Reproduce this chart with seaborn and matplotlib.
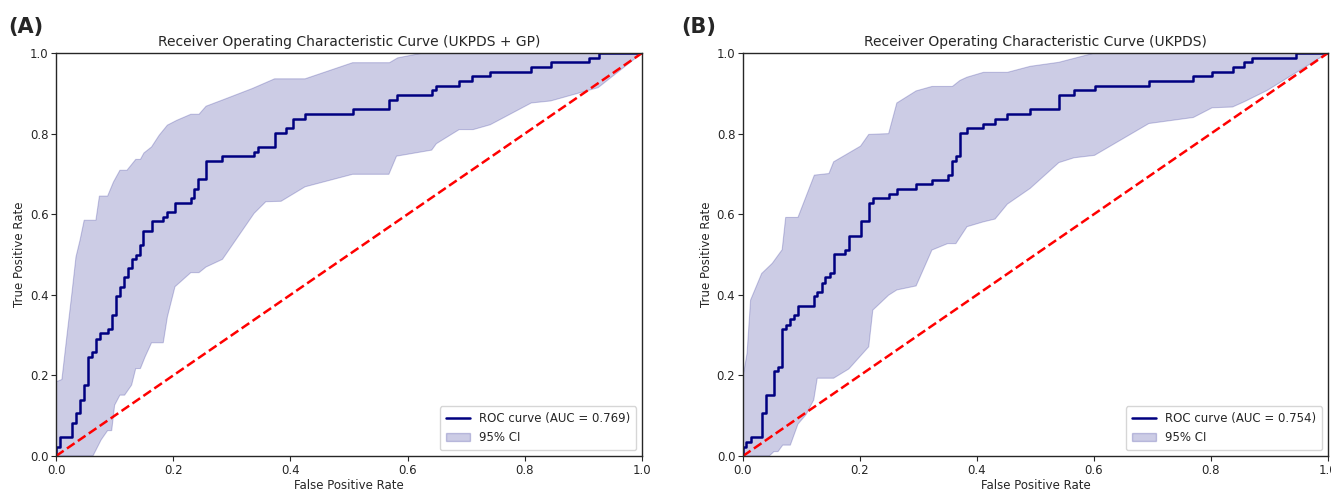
import numpy as np
import seaborn as sns
from matplotlib import pyplot as plt
from matplotlib.patches import Patch

# Panel A: UKPDS + GP
fpr_a = [0.0, 0.0, 0.007, 0.028, 0.034, 0.041, 0.047, 0.054, 0.061, 0.068, 0.075,
         0.088, 0.095, 0.102, 0.109, 0.116, 0.122, 0.129, 0.136, 0.143, 0.149,
         0.163, 0.183, 0.190, 0.203, 0.230, 0.236, 0.242, 0.256, 0.284, 0.338,
         0.345, 0.373, 0.392, 0.405, 0.425, 0.506, 0.568, 0.581, 0.641, 0.649,
         0.688, 0.709, 0.741, 0.811, 0.844, 0.910, 0.927, 1.0]
tpr_a = [0.0, 0.023, 0.048, 0.083, 0.106, 0.140, 0.176, 0.245, 0.257, 0.291, 0.304,
         0.315, 0.350, 0.397, 0.420, 0.443, 0.467, 0.490, 0.500, 0.523, 0.559,
         0.583, 0.593, 0.605, 0.628, 0.639, 0.663, 0.687, 0.732, 0.744, 0.755,
         0.767, 0.802, 0.814, 0.837, 0.848, 0.860, 0.884, 0.896, 0.907, 0.919,
         0.931, 0.942, 0.954, 0.965, 0.977, 0.988, 1.0, 1.0]
ci_up_x_a = [0.0, 0.010, 0.019, 0.027, 0.034, 0.041, 0.048, 0.068, 0.074, 0.088,
             0.098, 0.109, 0.121, 0.136, 0.144, 0.150, 0.163, 0.176, 0.190, 0.206,
             0.230, 0.244, 0.256, 0.285, 0.335, 0.373, 0.425, 0.506, 0.569, 0.583,
             0.626, 1.0]
ci_up_y_a = [0.184, 0.190, 0.304, 0.403, 0.494, 0.536, 0.585, 0.585, 0.645, 0.645,
             0.680, 0.709, 0.709, 0.736, 0.736, 0.752, 0.767, 0.796, 0.821, 0.833,
             0.848, 0.848, 0.868, 0.884, 0.912, 0.936, 0.936, 0.976, 0.976, 0.988,
             1.0, 1.0]
ci_lo_x_a = [0.0, 0.063, 0.077, 0.088, 0.095, 0.100, 0.109, 0.117, 0.129, 0.136,
             0.144, 0.152, 0.163, 0.183, 0.190, 0.203, 0.230, 0.244, 0.256, 0.284,
             0.338, 0.358, 0.384, 0.425, 0.506, 0.568, 0.581, 0.641, 0.649, 0.688,
             0.712, 0.741, 0.811, 0.844, 0.925, 1.0]
ci_lo_y_a = [0.0, 0.0, 0.040, 0.063, 0.063, 0.126, 0.151, 0.151, 0.176, 0.217,
             0.217, 0.246, 0.281, 0.281, 0.345, 0.420, 0.455, 0.455, 0.469, 0.488,
             0.602, 0.631, 0.632, 0.668, 0.699, 0.699, 0.744, 0.759, 0.775, 0.810,
             0.810, 0.822, 0.876, 0.881, 0.914, 1.0]
auc_a = 0.769

# Panel B: UKPDS
fpr_b = [0.0, 0.0, 0.006, 0.013, 0.033, 0.040, 0.053, 0.060, 0.067, 0.073, 0.081,
         0.087, 0.094, 0.122, 0.127, 0.135, 0.141, 0.148, 0.155, 0.175, 0.181,
         0.201, 0.215, 0.222, 0.249, 0.263, 0.296, 0.323, 0.350, 0.357, 0.364,
         0.371, 0.383, 0.411, 0.431, 0.452, 0.491, 0.540, 0.566, 0.601, 0.694,
         0.770, 0.802, 0.837, 0.857, 0.871, 0.946, 1.0]
tpr_b = [0.0, 0.023, 0.036, 0.048, 0.106, 0.151, 0.211, 0.221, 0.315, 0.326, 0.339,
         0.350, 0.373, 0.397, 0.407, 0.430, 0.443, 0.453, 0.501, 0.512, 0.547,
         0.583, 0.628, 0.640, 0.651, 0.663, 0.674, 0.686, 0.698, 0.732, 0.745,
         0.802, 0.814, 0.825, 0.837, 0.848, 0.860, 0.896, 0.907, 0.919, 0.931,
         0.942, 0.954, 0.965, 0.977, 0.988, 1.0, 1.0]
ci_up_x_b = [0.0, 0.002, 0.007, 0.013, 0.032, 0.050, 0.067, 0.073, 0.094, 0.122,
             0.147, 0.155, 0.201, 0.215, 0.249, 0.263, 0.296, 0.323, 0.358, 0.371,
             0.383, 0.411, 0.452, 0.491, 0.540, 0.601, 1.0]
ci_up_y_b = [0.20, 0.213, 0.255, 0.387, 0.453, 0.478, 0.512, 0.592, 0.592, 0.697,
             0.701, 0.730, 0.769, 0.798, 0.800, 0.876, 0.906, 0.917, 0.917, 0.932,
             0.940, 0.952, 0.952, 0.967, 0.977, 1.0, 1.0]
ci_lo_x_b = [0.0, 0.045, 0.053, 0.060, 0.068, 0.081, 0.094, 0.108, 0.121, 0.127,
             0.155, 0.181, 0.215, 0.222, 0.249, 0.263, 0.296, 0.323, 0.350, 0.364,
             0.383, 0.411, 0.431, 0.452, 0.491, 0.540, 0.566, 0.601, 0.694, 0.770,
             0.802, 0.837, 0.857, 0.896, 1.0]
ci_lo_y_b = [0.0, 0.0, 0.011, 0.011, 0.027, 0.027, 0.079, 0.103, 0.139, 0.193,
             0.193, 0.216, 0.271, 0.362, 0.399, 0.412, 0.422, 0.511, 0.527, 0.527,
             0.569, 0.581, 0.588, 0.625, 0.664, 0.728, 0.740, 0.746, 0.825, 0.840,
             0.864, 0.866, 0.879, 0.907, 1.0]
auc_b = 0.754

chance = [0.0, 1.0]
ticks = [0.0, 0.2, 0.4, 0.6, 0.8, 1.0]

sns.set_theme(style='ticks', rc={'axes.linewidth': 1.0})
plt.rcParams['font.family'] = ['DejaVu Sans']


def drawRoc(ax, fpr, tpr, upX, upY, loX, loY, auc, title):
    '''ROC step curve with a shaded confidence band'''
    # band polygon: upper edge left to right, lower edge back
    polyX = list(upX) + list(loX)[::-1]
    polyY = list(upY) + list(loY)[::-1]
    ax.fill(polyX, polyY, color='navy', alpha=0.2, lw=0.8)
    sns.lineplot(x=fpr, y=tpr, ax=ax, color='navy', lw=1.8, drawstyle='steps-post',
                 estimator=None, sort=False)
    sns.lineplot(x=chance, y=chance, ax=ax, color='red', lw=1.8, linestyle='--')

    ax.set_xlim(0, 1)
    ax.set_ylim(0, 1)
    ax.set_xticks(ticks)
    ax.set_yticks(ticks)
    ax.tick_params(labelsize=8.5, length=3.5, width=0.8, pad=2)
    ax.set_xlabel('False Positive Rate', fontsize=8.5, labelpad=2)
    ax.set_ylabel('True Positive Rate', fontsize=8.5, labelpad=3)
    ax.set_title(title, fontsize=10, pad=5)

    handles = [plt.Line2D([], [], color='navy', lw=1.8),
               Patch(facecolor='navy', edgecolor='navy', alpha=0.2)]
    labels = [f'ROC curve (AUC = {auc:.3f})', '95% CI']
    ax.legend(handles, labels, loc='lower right', fontsize=8.5, frameon=True,
              borderpad=0.5, handlelength=2.0)


fig = plt.figure(figsize=(13.31, 4.94), dpi=100)
axA = fig.add_axes([0.0421, 0.0769, 0.4403, 0.8158])
axB = fig.add_axes([0.5582, 0.0769, 0.4395, 0.8158])

drawRoc(axA, fpr_a, tpr_a, ci_up_x_a, ci_up_y_a, ci_lo_x_a, ci_lo_y_a, auc_a,
        'Receiver Operating Characteristic Curve (UKPDS + GP)')
drawRoc(axB, fpr_b, tpr_b, ci_up_x_b, ci_up_y_b, ci_lo_x_b, ci_lo_y_b, auc_b,
        'Receiver Operating Characteristic Curve (UKPDS)')

fig.text(0.006, 0.945, '(A)', fontsize=15, fontweight='bold', va='center', ha='left')
fig.text(0.512, 0.945, '(B)', fontsize=15, fontweight='bold', va='center', ha='left')

fig.savefig('out.png', dpi=100)
